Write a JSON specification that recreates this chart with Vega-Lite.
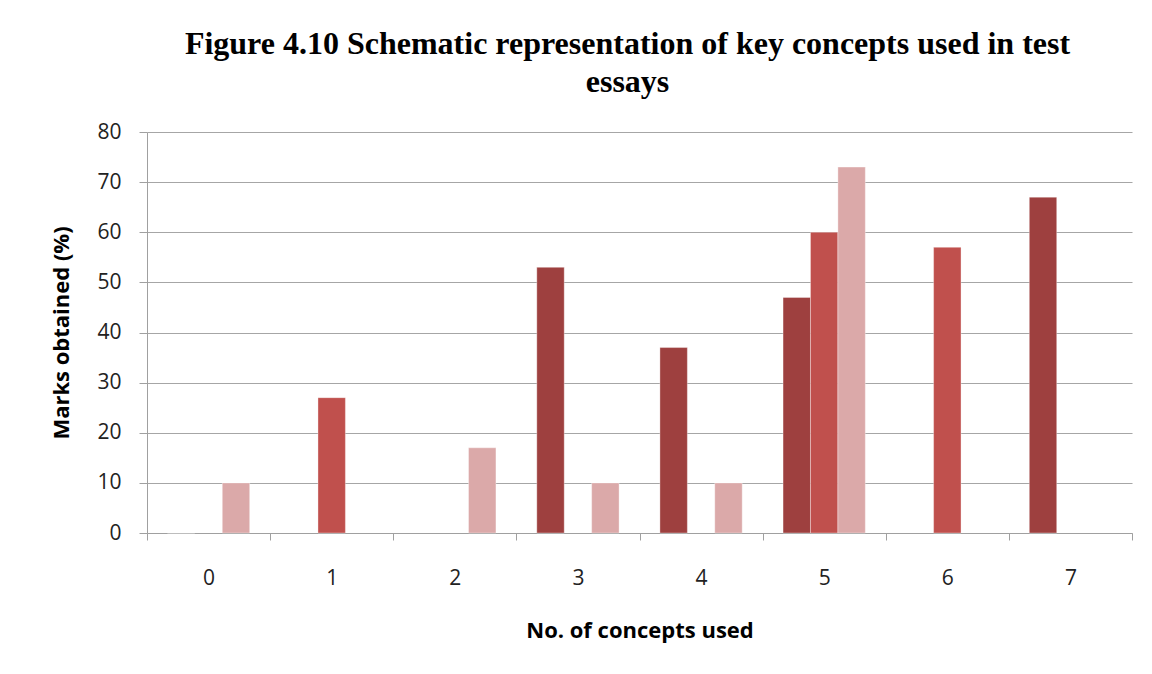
{
  "$schema": "https://vega.github.io/schema/vega-lite/v6.json",
  "autosize": "none",
  "width": 985,
  "height": 401,
  "padding": {"left": 147, "top": 132, "right": 20, "bottom": 141},
  "background": "white",
  "title": {
    "text": ["Figure 4.10 Schematic representation of key concepts used in test", "essays"],
    "font": "Liberation Serif",
    "fontSize": 32,
    "fontWeight": "bold",
    "color": "black",
    "anchor": "middle",
    "offset": 22,
    "lineHeight": 38,
    "dx": -12
  },
  "data": {
    "values": [
      {"concepts": "0", "series": "A", "marks": 0},
      {"concepts": "0", "series": "C", "marks": 10},
      {"concepts": "1", "series": "B", "marks": 27},
      {"concepts": "2", "series": "C", "marks": 17},
      {"concepts": "3", "series": "A", "marks": 53},
      {"concepts": "3", "series": "C", "marks": 10},
      {"concepts": "4", "series": "A", "marks": 37},
      {"concepts": "4", "series": "C", "marks": 10},
      {"concepts": "5", "series": "A", "marks": 47},
      {"concepts": "5", "series": "B", "marks": 60},
      {"concepts": "5", "series": "C", "marks": 73},
      {"concepts": "6", "series": "B", "marks": 57},
      {"concepts": "7", "series": "A", "marks": 67}
    ]
  },
  "mark": {"type": "bar", "stroke": "#ffffff", "strokeOpacity": 0.35, "strokeWidth": 1},
  "encoding": {
    "x": {
      "field": "concepts",
      "type": "nominal",
      "scale": {"paddingInner": 0, "paddingOuter": 0},
      "axis": {
        "title": "No. of concepts used",
        "labelAngle": 0,
        "tickBand": "extent",
        "grid": false,
        "domainColor": "#a0a0a0",
        "tickColor": "#a0a0a0",
        "tickSize": 7,
        "labelPadding": 27,
        "labelFont": "Open Sans",
        "labelFontSize": 21,
        "labelColor": "#222222",
        "titleFont": "Open Sans",
        "titleFontSize": 22,
        "titleFontWeight": "bold",
        "titleColor": "black",
        "titlePadding": 32
      }
    },
    "xOffset": {
      "field": "series",
      "type": "nominal",
      "scale": {"domain": ["A", "B", "C"], "paddingInner": 0, "paddingOuter": 0.745}
    },
    "y": {
      "field": "marks",
      "type": "quantitative",
      "scale": {"domain": [0, 80]},
      "axis": {
        "title": "Marks obtained (%)",
        "values": [0, 10, 20, 30, 40, 50, 60, 70, 80],
        "gridColor": "#a6a6a6",
        "gridWidth": 1.2,
        "domainColor": "#a0a0a0",
        "tickColor": "#a0a0a0",
        "tickSize": 8,
        "labelPadding": 18,
        "labelFont": "Open Sans",
        "labelFontSize": 21,
        "labelColor": "#222222",
        "titleFont": "Open Sans",
        "titleFontSize": 22,
        "titleFontWeight": "bold",
        "titleColor": "black",
        "titlePadding": 23
      }
    },
    "color": {
      "field": "series",
      "type": "nominal",
      "scale": {"domain": ["A", "B", "C"], "range": ["#9e403f", "#c0504d", "#dba9a9"]},
      "legend": null
    }
  },
  "config": {"view": {"stroke": null}}
}
